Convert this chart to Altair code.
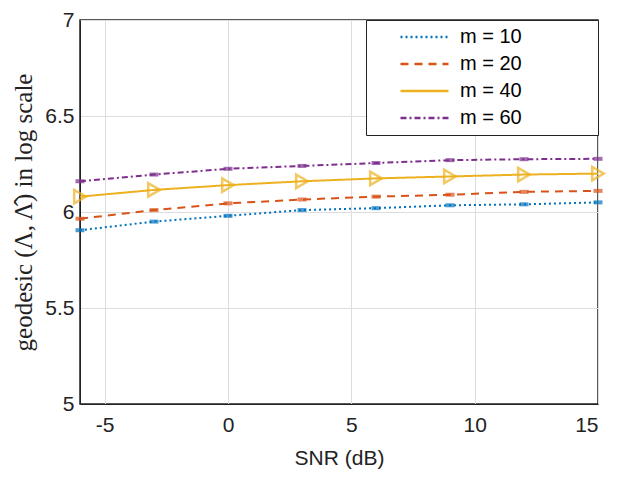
import altair as alt
import pandas as pd

snr = [-6, -3, 0, 3, 6, 9, 12, 15]
m10 = [5.905, 5.95, 5.98, 6.01, 6.02, 6.035, 6.04, 6.05]
m20 = [5.965, 6.01, 6.045, 6.065, 6.08, 6.09, 6.105, 6.11]
m40 = [6.08, 6.115, 6.14, 6.16, 6.175, 6.185, 6.195, 6.2]
m60 = [6.16, 6.195, 6.225, 6.24, 6.255, 6.27, 6.275, 6.277]
names = ["m = 10", "m = 20", "m = 40", "m = 60"]
colors = ["#0072BD", "#D95319", "#EDB120", "#7E2F8E"]
dashes = [[2, 3], [8, 6], [1, 0], [6, 3, 2, 3]]

rows = []
for name, vals in zip(names, [m10, m20, m40, m60]):
    for x, y in zip(snr, vals):
        rows.append({"snr": x, "val": y, "series": name})
df = pd.DataFrame(rows)

xs = alt.Scale(domain=[-6, 15], nice=False, zero=False)
ys = alt.Scale(domain=[5, 7], nice=False, zero=False)
cs = alt.Scale(domain=names, range=colors)

xax = alt.Axis(values=[-5, 0, 5, 10, 15], title="SNR (dB)", tickSize=0,
               labelExpr="replace(datum.label, '\u2212', '-')",
               labelPadding=10, titlePadding=12, labelFontSize=21, titleFontSize=21,
               titleFontWeight="normal", labelFont="Liberation Sans", titleFont="Liberation Sans",
               labelColor="#222", titleColor="#222", domainColor="#222", gridColor="#ddd")
yax = alt.Axis(values=[5, 5.5, 6, 6.5, 7], format="~g", title="geodesic (Λ, Λ\u0302) in log scale",
               tickSize=0, labelPadding=6, titlePadding=8, labelFontSize=21, titleFontSize=25,
               titleFontWeight="normal", labelFont="Liberation Sans",
               titleFont="Liberation Serif, DejaVu Serif",
               labelColor="#222", titleColor="#222", domainColor="#222", gridColor="#ddd")

pad = "\u00a0" * 13 + "\u200b"
base = alt.Chart(df)
lines = base.mark_line(strokeWidth=2).encode(
    x=alt.X("snr:Q", scale=xs, axis=xax),
    y=alt.Y("val:Q", scale=ys, axis=yax),
    color=alt.Color("series:N", scale=cs, legend=alt.Legend(
        title=None, orient="top-right", offset=0, fillColor="white", strokeColor="#222",
        symbolType="stroke", symbolSize=2304, symbolStrokeWidth=2.5, labelFontSize=20,
        labelFont="Liberation Sans", labelColor="black", padding=4, rowPadding=1,
        clipHeight=26, symbolOffset=29, labelOffset=10,
        labelExpr="datum.label + '" + pad + "'")),
    strokeDash=alt.StrokeDash("series:N", scale=alt.Scale(domain=names, range=dashes), legend=None),
)
ticks = base.transform_filter(alt.datum.series != "m = 40").mark_tick(
    orient="horizontal", size=9, thickness=4).encode(
    x=alt.X("snr:Q", scale=xs), y=alt.Y("val:Q", scale=ys),
    color=alt.Color("series:N", scale=cs, legend=None))
tri = base.transform_filter(alt.datum.series == "m = 40").mark_point(
    shape="triangle-right", filled=False, size=180, strokeWidth=2.5).encode(
    x=alt.X("snr:Q", scale=xs), y=alt.Y("val:Q", scale=ys),
    color=alt.Color("series:N", scale=cs, legend=None))

chart = alt.layer(lines, ticks, tri).properties(
    width=518, height=384, autosize=alt.AutoSizeParams(type="none"),
    padding={"left": 72, "top": 12, "right": 18, "bottom": 68},
).configure_view(stroke="#222", strokeWidth=1.5)

chart.save("out.html", embed_options={"renderer": "svg", "actions": False})
